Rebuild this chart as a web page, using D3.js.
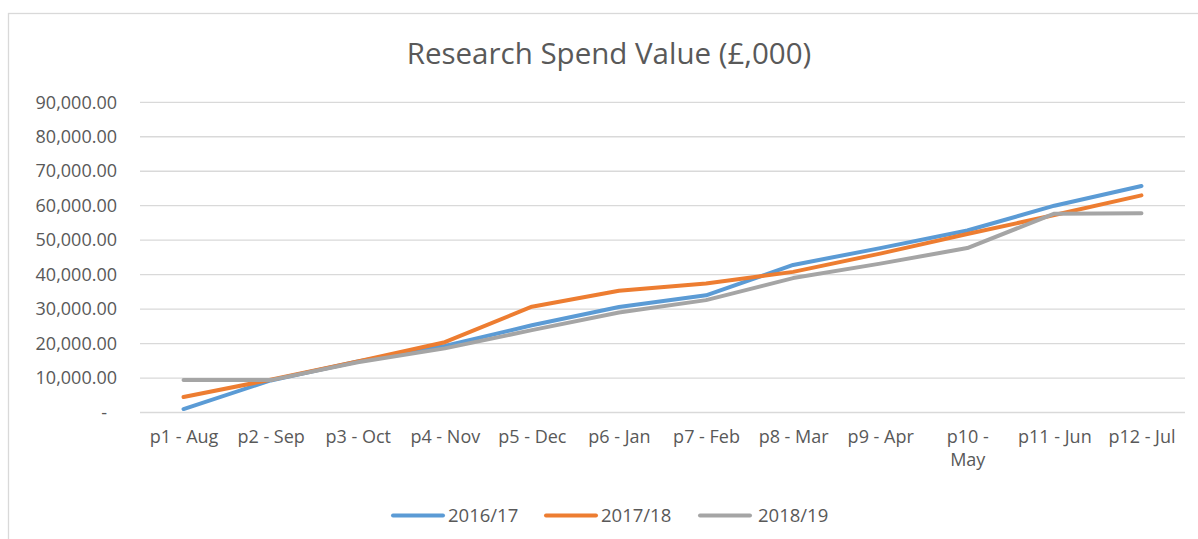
<!DOCTYPE html>
<html>
<head>
<meta charset="utf-8">
<script src="https://d3js.org/d3.v7.min.js"></script>
<style>
  body { margin: 0; background: #fff; }
  text { font-family: "Open Sans", "Noto Sans", sans-serif; fill: #595959; }
  .grid line { stroke: #d9d9d9; stroke-width: 1.3px; }
  .series { fill: none; stroke-width: 4px; stroke-linecap: round; stroke-linejoin: round; }
</style>
</head>
<body>
<script>
// periods on the x axis
var periods = ["p1 - Aug", "p2 - Sep", "p3 - Oct", "p4 - Nov", "p5 - Dec", "p6 - Jan",
               "p7 - Feb", "p8 - Mar", "p9 - Apr", "p10 - May", "p11 - Jun", "p12 - Jul"];

// values (£,000)
var spend1617 = [1000, 9300, 14800, 19300, 25300, 30600, 34000, 42800, 47700, 52800, 60000, 65700];
var spend1718 = [4500, 9500, 14800, 20400, 30700, 35300, 37400, 40800, 46100, 51800, 57300, 63000];
var spend1819 = [9400, 9400, 14600, 18600, 23900, 29000, 32600, 39000, 43200, 47700, 57700, 57800];

var seriesNames = ["2016/17", "2017/18", "2018/19"];
var colors = ["#5b9bd5", "#ed7d31", "#a5a5a5"];
var yTicks = [0, 10000, 20000, 30000, 40000, 50000, 60000, 70000, 80000, 90000];

var width = 1198, height = 539;

var svg = d3.select("body").append("svg")
    .attr("width", width)
    .attr("height", height);

// chart border
svg.append("rect")
    .attr("x", 8.5).attr("y", 13.5)
    .attr("width", width + 10).attr("height", height + 10)
    .attr("fill", "none")
    .attr("stroke", "#d9d9d9")
    .attr("stroke-width", 1.3);

svg.append("text")
    .attr("x", 609).attr("y", 64)
    .attr("text-anchor", "middle")
    .style("font-size", "29.5px")
    .text("Research Spend Value (£,000)");

var x = d3.scalePoint().domain(periods).range([140, 1185]).padding(0.5);
var y = d3.scaleLinear().domain([0, 90000]).range([412.5, 102.3]);

// gridlines
svg.append("g").attr("class", "grid")
    .selectAll("line")
    .data(yTicks)
    .enter().append("line")
    .attr("x1", 140).attr("x2", 1185)
    .attr("y1", function (d) { return y(d); })
    .attr("y2", function (d) { return y(d); });

// y axis labels
var yAxis = d3.axisLeft(y)
    .tickValues(yTicks)
    .tickSize(0)
    .tickPadding(0)
    .tickFormat(function (d) { return d === 0 ? "-" : d3.format(",.2f")(d); });

var gy = svg.append("g").attr("transform", "translate(117,0)").call(yAxis);
gy.select(".domain").remove();
gy.selectAll("text")
    .attr("fill", "#595959")
    .style("font-size", "18px")
    .style("font-family", "'Open Sans', sans-serif")
    .attr("dx", function (d) { return d === 0 ? -10 : 0; });

// x axis labels
var xAxis = d3.axisBottom(x).tickSize(0).tickPadding(0);
var gx = svg.append("g").attr("transform", "translate(0,430)").call(xAxis);
gx.select(".domain").remove();
gx.selectAll("text")
    .attr("fill", "#595959")
    .style("font-size", "18px")
    .style("font-family", "'Open Sans', sans-serif")
    .each(function (d) {
        var t = d3.select(this);
        if (this.getComputedTextLength() > 76) {
            var parts = d.split(" - ");
            t.text(null);
            t.append("tspan").attr("x", 0).attr("dy", "0.71em").text(parts[0] + " -");
            t.append("tspan").attr("x", 0).attr("dy", "1.3em").text(parts[1]);
        }
    });

var allSeries = [spend1617, spend1718, spend1819];

var line = d3.line()
    .x(function (d, i) { return x(periods[i]); })
    .y(function (d) { return y(d); });

svg.append("g").selectAll("path")
    .data(allSeries)
    .enter().append("path")
    .attr("class", "series")
    .attr("stroke", function (d, i) { return colors[i]; })
    .attr("d", line);

// legend
var legendX = [393, 546, 700];
var legend = svg.append("g").selectAll("g")
    .data(seriesNames)
    .enter().append("g")
    .attr("transform", function (d, i) { return "translate(" + legendX[i] + ",515.5)"; });

legend.append("line")
    .attr("x1", 0).attr("x2", 50)
    .attr("stroke", function (d, i) { return colors[i]; })
    .attr("stroke-width", 4)
    .attr("stroke-linecap", "round");

legend.append("text")
    .attr("x", function (d, i) { return i === 2 ? 58 : 55; })
    .attr("y", 0)
    .attr("dy", "0.36em")
    .style("font-size", "18.5px")
    .text(function (d) { return d; });
</script>
</body>
</html>
